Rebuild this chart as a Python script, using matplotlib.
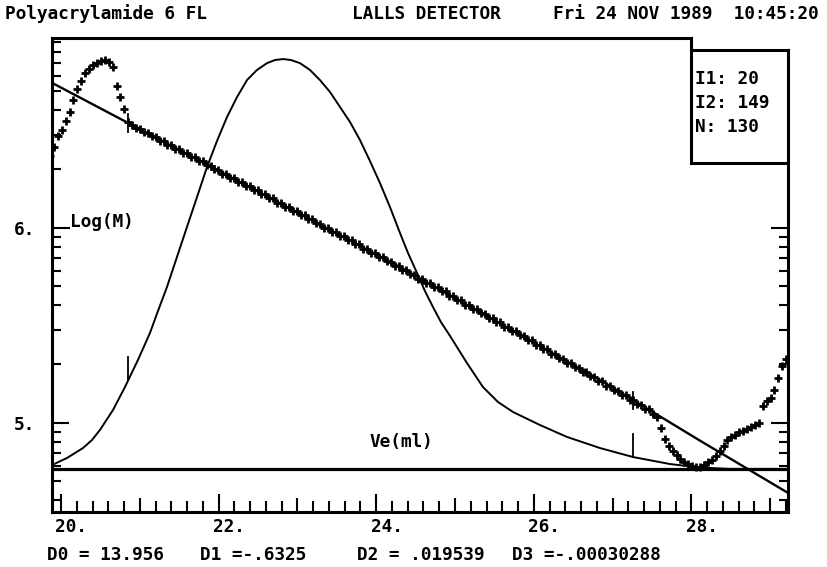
import numpy as np
import matplotlib
matplotlib.use("Agg")
import matplotlib.pyplot as plt
from matplotlib.transforms import ScaledTranslation

# ---------------- data ----------------
# Log(M) points, sampled at a constant elution-volume step
ve_start = 19.86
ve_step = 0.0497
logm = [
    6.368, 6.414, 6.471, 6.501, 6.547, 6.594, 6.655, 6.711, 6.752, 6.793,
    6.814, 6.832, 6.847, 6.857, 6.860, 6.852, 6.824, 6.727, 6.670, 6.611,
    6.542, 6.529, 6.511, 6.508, 6.489, 6.487, 6.468, 6.466, 6.447, 6.444,
    6.425, 6.426, 6.404, 6.405, 6.383, 6.383, 6.362, 6.361, 6.341, 6.340,
    6.320, 6.319, 6.299, 6.298, 6.278, 6.277, 6.256, 6.256, 6.235, 6.235,
    6.214, 6.213, 6.193, 6.192, 6.172, 6.171, 6.150, 6.150, 6.129, 6.129,
    6.108, 6.107, 6.087, 6.086, 6.065, 6.064, 6.044, 6.043, 6.022, 6.021,
    6.001, 6.000, 5.979, 5.978, 5.957, 5.957, 5.936, 5.935, 5.914, 5.914,
    5.893, 5.892, 5.871, 5.870, 5.849, 5.848, 5.827, 5.826, 5.805, 5.804,
    5.783, 5.782, 5.761, 5.760, 5.739, 5.738, 5.717, 5.716, 5.695, 5.695,
    5.674, 5.673, 5.651, 5.650, 5.629, 5.627, 5.606, 5.605, 5.584, 5.582,
    5.561, 5.560, 5.538, 5.537, 5.516, 5.514, 5.493, 5.492, 5.471, 5.469,
    5.448, 5.446, 5.425, 5.423, 5.401, 5.400, 5.378, 5.376, 5.354, 5.353,
    5.331, 5.329, 5.308, 5.306, 5.284, 5.282, 5.261, 5.259, 5.237, 5.236,
    5.214, 5.212, 5.190, 5.188, 5.166, 5.164, 5.142, 5.140, 5.118, 5.116,
    5.094, 5.092, 5.070, 5.068, 5.046, 5.030, 4.973, 4.916, 4.881, 4.855,
    4.834, 4.814, 4.798, 4.786, 4.778, 4.774, 4.775, 4.783, 4.796, 4.811,
    4.829, 4.855, 4.881, 4.911, 4.927, 4.939, 4.950, 4.957, 4.970, 4.978,
    4.988, 4.998, 5.086, 5.109, 5.127, 5.168, 5.229, 5.291, 5.327,
]
I1 = 20
I2 = 149
N = 130

# fitted calibration line (read points)
fit_ve = [19.886, 21.764, 24.302, 26.840, 28.109, 29.226]
fit_logm = [6.743, 6.343, 5.798, 5.219, 4.908, 4.640]

# concentration trace, drawn in the same frame
conc_ve = [19.886, 20.076, 20.279, 20.393, 20.495, 20.660, 20.812, 20.977,
           21.129, 21.231, 21.345, 21.472, 21.599, 21.726, 21.853, 21.980,
           22.107, 22.234, 22.360, 22.487, 22.614, 22.716, 22.817, 22.919,
           23.033, 23.160, 23.287, 23.414, 23.541, 23.668, 23.794, 23.921,
           24.048, 24.175, 24.302, 24.404, 24.518, 24.619, 24.721, 24.822,
           24.937, 25.152, 25.355, 25.546, 25.736, 26.079, 26.421, 26.840,
           27.259, 27.728, 28.109, 28.490, 29.226]
conc_y = [4.783, 4.819, 4.870, 4.911, 4.963, 5.065, 5.183, 5.322,
          5.460, 5.573, 5.696, 5.850, 6.004, 6.157, 6.311, 6.445,
          6.568, 6.670, 6.757, 6.809, 6.844, 6.860, 6.865, 6.860,
          6.844, 6.809, 6.757, 6.696, 6.619, 6.542, 6.450, 6.342,
          6.229, 6.106, 5.973, 5.870, 5.768, 5.675, 5.593, 5.516,
          5.445, 5.306, 5.183, 5.106, 5.055, 4.988, 4.927, 4.870,
          4.824, 4.788, 4.770, 4.763, 4.763]
baseline = 4.763

x_major = [20, 21, 22, 23, 24, 25, 26, 27, 28, 29]
x_labels = ["20.", "", "22.", "", "24.", "", "26.", "", "28.", ""]
y_major = [5, 6]
y_labels = ["5.", "6."]
y_decades = [4, 5, 6]
y_mults = [2, 3, 4, 5, 6, 7, 8, 9]

header_left = "Polyacrylamide 6 FL"
header_mid = "LALLS DETECTOR"
header_right = "Fri 24 NOV 1989  10:45:20"
coef_texts = ["D0 = 13.956", "D1 =-.6325", "D2 = .019539", "D3 =-.00030288"]

# ---------------- figure ----------------
plt.rcParams["font.family"] = ["DejaVu Sans Mono"]
plt.rcParams["font.weight"] = "bold"
plt.rcParams["font.size"] = 12.8

W, H = 827, 567
fig = plt.figure(figsize=(W / 100, H / 100), dpi=100)
fig.patch.set_facecolor("white")


def fx(px):
    return px / W


def fy(py):
    return 1 - py / H


L, R, T, B = 52, 788, 38, 512
ax = fig.add_axes([fx(L), fy(B), fx(R) - fx(L), fy(T) - fy(B)])
ax.set_xlim(19.886, 29.226)
ax.set_ylim(4.542, 6.973)

ve = ve_start + ve_step * np.arange(len(logm))

ax.plot(conc_ve, conc_y, color="black", lw=1.4, solid_joinstyle="round", zorder=2)
ax.axhline(baseline, color="black", lw=2.3, zorder=2)
ax.plot(fit_ve, fit_logm, color="black", lw=1.7, zorder=2)
ax.plot(ve, logm, ls="none", marker="+", ms=6, mew=2.0, color="black", zorder=3)

# integration limit markers
for idx in (I1, I2):
    xv = ve[idx]
    yl = np.interp(xv, fit_ve, fit_logm)
    ax.plot([xv, xv], [yl - 0.045, yl + 0.045], color="black", lw=1.3, zorder=4)
    yc = np.interp(xv, conc_ve, conc_y)
    ax.plot([xv, xv], [yc, yc + 0.12], color="black", lw=1.3, zorder=4)

# frame
for s in ("top", "right"):
    ax.spines[s].set_visible(False)
for s in ("left", "bottom"):
    ax.spines[s].set_linewidth(2.2)
bx = (691 - L) / (R - L)
btop = (B - 50) / (B - T)
bbot = (B - 163) / (B - T)
kw = dict(transform=ax.transAxes, clip_on=False, color="black", lw=2.2,
          solid_capstyle="projecting")
ax.plot([0, bx], [1, 1], **kw)
ax.plot([bx, bx], [1, bbot], **kw)
ax.plot([bx, 1], [bbot, bbot], **kw)
ax.plot([bx, 1], [btop, btop], **kw)
ax.plot([1, 1], [btop, 0], **kw)

# ticks
ax.set_xticks(x_major, x_labels, ha="left")
ax.set_xticks(np.arange(20.0, 29.21, 0.2), minor=True)
ax.tick_params(axis="x", which="major", direction="in", length=13, width=1.5,
               pad=4, top=False)
ax.tick_params(axis="x", which="minor", direction="in", length=8, width=1.5,
               top=False)
for t, v in zip(ax.xaxis.get_major_ticks(), x_major):
    if v % 2:
        t.tick1line.set_markersize(10)
for lab in ax.get_xticklabels():
    lab.set_transform(lab.get_transform()
                      + ScaledTranslation(-4 / 72, 0, fig.dpi_scale_trans))

y_minor = [np.log10(m) + d for d in y_decades for m in y_mults]
y_minor = [v for v in y_minor if 4.542 < v < 6.973]
ax.set_yticks(y_major, y_labels)
ax.set_yticks(y_minor, minor=True)
ax.tick_params(axis="y", which="major", direction="in", length=12, width=1.5,
               pad=12, left=True, right=True)
ax.tick_params(axis="y", which="minor", direction="in", length=6.5, width=1.5,
               left=True, right=True)
for t, v in zip(ax.yaxis.get_major_ticks(), y_major):
    if v == 6:
        t.tick1line.set_markersize(13)
for t, v in zip(ax.yaxis.get_minor_ticks(), y_minor):
    if v > 6.0:
        t.tick2line.set_visible(False)

# texts
fig.text(fx(5), fy(14), header_left, ha="left", va="center")
fig.text(fx(352), fy(14), header_mid, ha="left", va="center")
fig.text(fx(553), fy(14), header_right, ha="left", va="center")

fig.text(fx(70), fy(222), "Log(M)", ha="left", va="center")
fig.text(fx(401), fy(442), "Ve(ml)", ha="center", va="center")

fig.text(fx(695), fy(79), f"I1: {I1}", ha="left", va="center")
fig.text(fx(695), fy(103), f"I2: {I2}", ha="left", va="center")
fig.text(fx(695), fy(127), f"N: {N}", ha="left", va="center")

for xpx, s in zip([47, 200, 357, 512], coef_texts):
    fig.text(fx(xpx), fy(555), s, ha="left", va="center")

fig.savefig("out.png", dpi=100, facecolor="white")
